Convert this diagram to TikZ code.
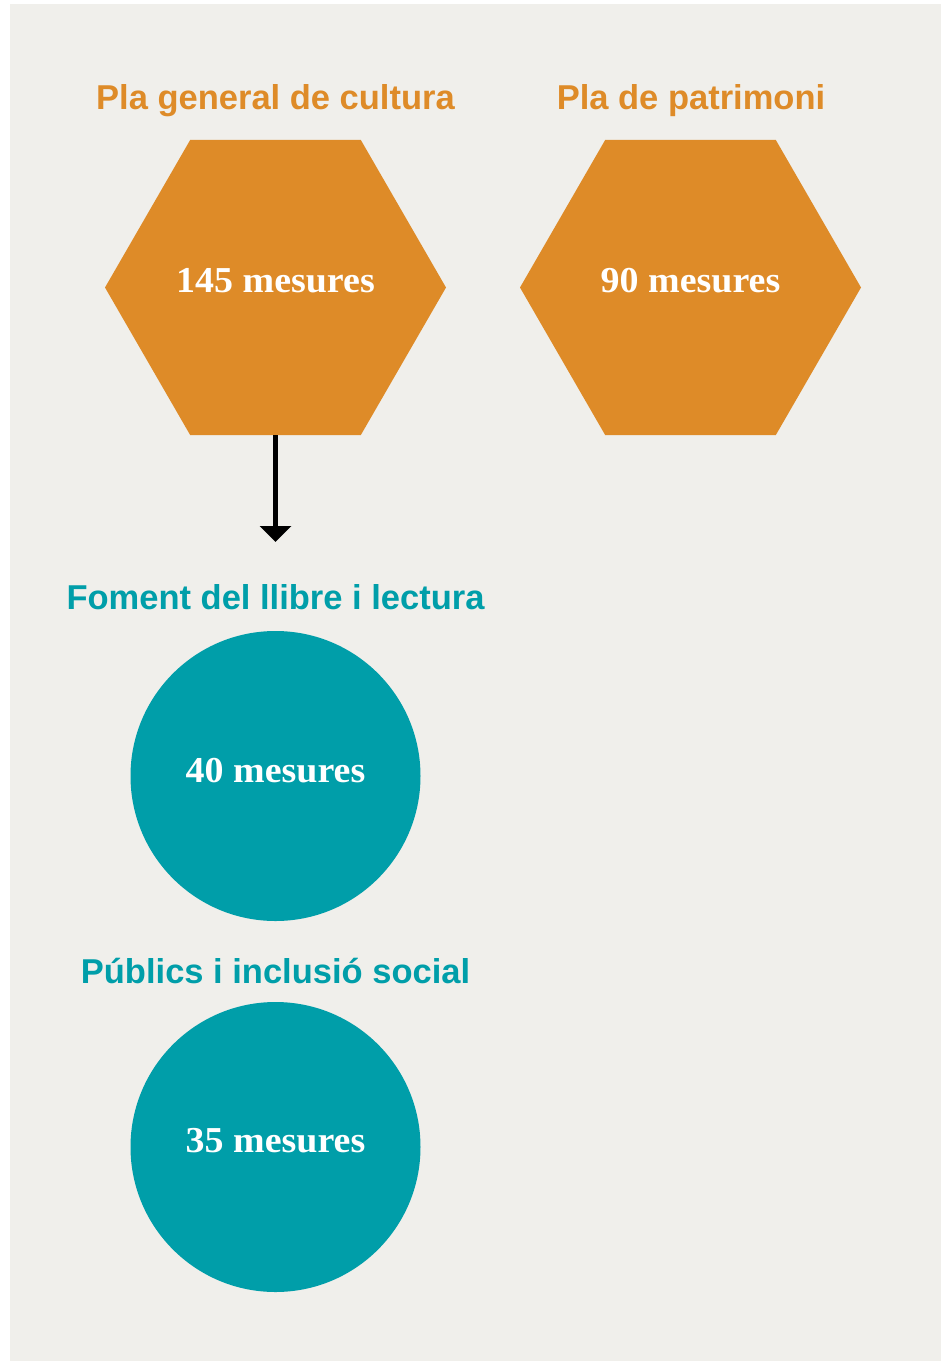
\documentclass[tikz,border=0pt]{standalone}
\usepackage{fontspec}
\usetikzlibrary{shapes.geometric,arrows.meta}
\newfontfamily\titlefont{Liberation Sans}
\newfontfamily\numfont{Liberation Serif}
\definecolor{bgc}{HTML}{F0EFEB}
\definecolor{orangec}{HTML}{DE8B28}
\definecolor{tealc}{HTML}{009EA9}
\tikzset{
  hexbox/.style={regular polygon, regular polygon sides=6, minimum size=341pt, inner sep=0pt, fill=orangec, draw=none},
  circbox/.style={circle, minimum size=290pt, inner sep=0pt, fill=tealc, draw=none},
  titletext/.style={anchor=base, inner sep=0pt, font=\titlefont\bfseries\fontsize{34.5}{40}\selectfont},
  numtext/.style={anchor=base, inner sep=0pt, text=white, xscale=1.04, font=\numfont\bfseries\fontsize{36.5}{42}\selectfont},
  arrowline/.style={line width=5pt, -{Triangle[width=31pt,length=16pt]}}
}
\begin{document}
\begin{tikzpicture}[x=1pt,y=-1pt]
\useasboundingbox (0,0) rectangle (941,1361);
\fill[bgc] (10,4) rectangle (941,1361);
% titles
\node[titletext, text=orangec] (t1) at (275.5,109.5) {Pla general de cultura};
\node[titletext, text=orangec] (t2) at (691,109.5) {Pla de patrimoni};
\node[titletext, text=tealc] (t3) at (275.5,609) {Foment del llibre i lectura};
\node[titletext, text=tealc] (t4) at (275.5,983) {Públics i inclusió social};
% shapes
\node[hexbox] (h1) at (275.5,287.5) {};
\node[hexbox] (h2) at (690.5,287.5) {};
\node[circbox] (c1) at (275.5,776) {};
\node[circbox] (c2) at (275.5,1147) {};
% numbers
\node[numtext] (n1) at (275.5,292.5) {145 mesures};
\node[numtext] (n2) at (690.5,292.5) {90 mesures};
\node[numtext] (n3) at (275.5,782.5) {40 mesures};
\node[numtext] (n4) at (275.5,1152.5) {35 mesures};
% arrow
\coordinate (a1) at (275.5,542);
\draw[arrowline] (h1.south) -- (a1);
\end{tikzpicture}
\end{document}
